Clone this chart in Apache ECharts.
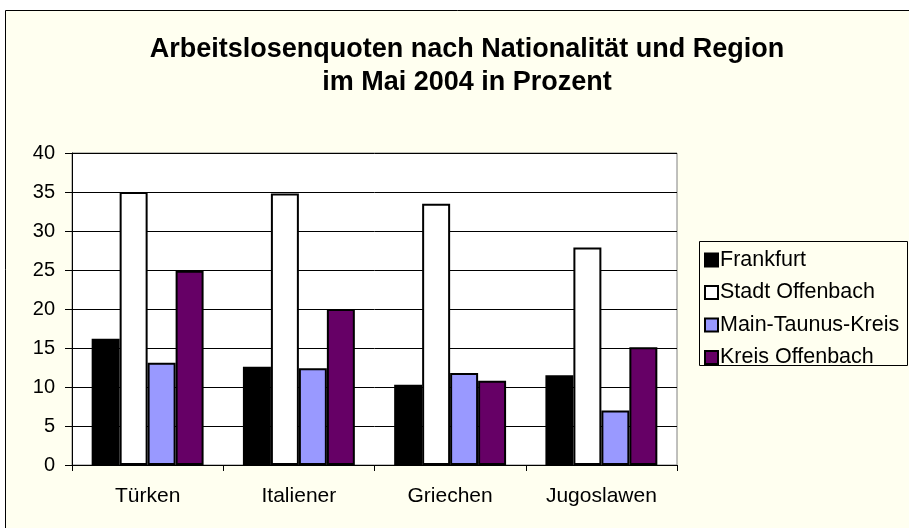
<!DOCTYPE html>
<html>
<head>
<meta charset="utf-8">
<script src="https://cdn.jsdelivr.net/npm/echarts@6/dist/echarts.min.js"></script>
<style>
html,body{margin:0;padding:0;background:#fff;}
#main{width:909px;height:528px;}
</style>
</head>
<body>
<div id="main"></div>
<script>
var categories = ['Türken', 'Italiener', 'Griechen', 'Jugoslawen'];
var frankfurt = [16.2, 12.6, 10.3, 11.5];
var stadtOffenbach = [35.0, 34.8, 33.5, 27.9];
var mainTaunus = [13.1, 12.4, 11.8, 7.0];
var kreisOffenbach = [24.9, 20.0, 10.8, 15.1];
var yTicks = [0, 5, 10, 15, 20, 25, 30, 35, 40];

var font = 'Arial, "Liberation Sans", sans-serif';

function bar(name, data, color){
	return {
		name: name,
		type: 'bar',
		data: data,
		barGap: '0%',
		barCategoryGap: '26%',
		silent: true,
		itemStyle: {color: color, borderColor: '#000', borderWidth: 2}
	};
}

var chart = echarts.init(document.getElementById('main'));
chart.setOption({
	animation: false,
	backgroundColor: '#fff',
	graphic: [{
		type: 'rect',
		left: 5, top: 10,
		shape: {width: 920, height: 540},
		style: {fill: '#FFFFF0', stroke: '#000', lineWidth: 1},
		z: -10
	}, {
		// legend frame
		type: 'rect',
		left: 699, top: 241,
		shape: {width: 208, height: 124},
		style: {fill: 'transparent', stroke: '#000', lineWidth: 1},
		z: 5
	}],
	title: {
		text: 'Arbeitslosenquoten nach Nationalität und Region\nim Mai 2004 in Prozent',
		left: 462, top: 28, textAlign: 'center',
		textStyle: {fontFamily: font, fontSize: 27, fontWeight: 'bold', color: '#000', lineHeight: 33}
	},
	legend: {
		orient: 'vertical',
		left: 699, top: 241,
		padding: [8, 2, 0, 5],
		itemWidth: 13, itemHeight: 13,
		itemGap: 10.5,
		icon: 'rect',
		textStyle: {fontFamily: font, fontSize: 21.5, color: '#000', padding: [0, 0, 0, -3]},
		data: ['Frankfurt', 'Stadt Offenbach', 'Main-Taunus-Kreis', 'Kreis Offenbach']
	},
	grid: {
		left: 72, top: 153, right: 232, bottom: 63,
		show: true, backgroundColor: '#fff', borderColor: '#808080', borderWidth: 1
	},
	xAxis: {
		type: 'category',
		data: categories,
		axisLine: {lineStyle: {color: '#000', width: 1}},
		axisTick: {show: true, length: 6, lineStyle: {color: '#000'}},
		axisLabel: {fontFamily: font, fontSize: 21, color: '#000', margin: 21}
	},
	yAxis: {
		type: 'value',
		min: yTicks[0], max: yTicks[yTicks.length - 1], interval: 5,
		axisLine: {show: true, lineStyle: {color: '#000', width: 1}},
		axisTick: {show: true, length: 7, lineStyle: {color: '#000'}},
		axisLabel: {fontFamily: font, fontSize: 20, color: '#000', margin: 17},
		splitLine: {lineStyle: {color: '#000', width: 1}}
	},
	series: [
		bar('Frankfurt', frankfurt, '#000000'),
		bar('Stadt Offenbach', stadtOffenbach, '#FFFFFF'),
		bar('Main-Taunus-Kreis', mainTaunus, '#9999FF'),
		bar('Kreis Offenbach', kreisOffenbach, '#660066')
	]
});
</script>
</body>
</html>
